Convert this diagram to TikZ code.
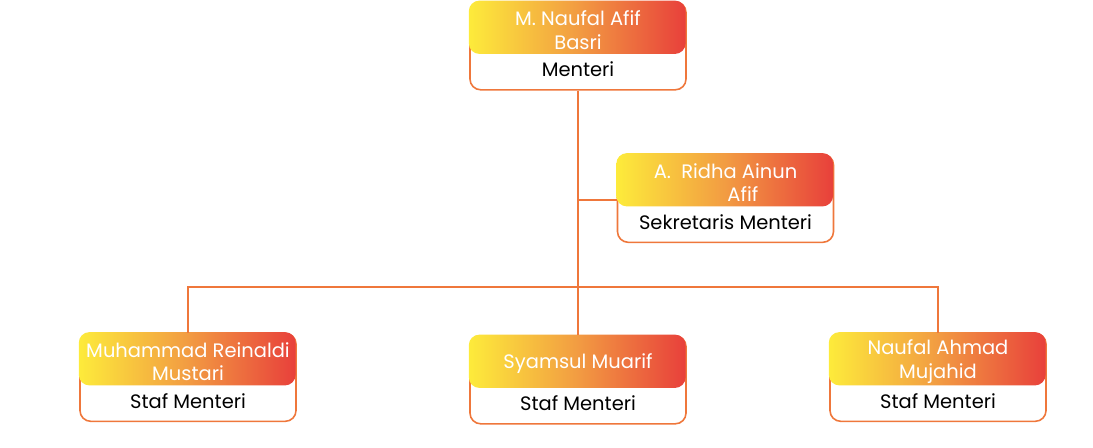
\documentclass[tikz,border=0pt]{standalone}
\usepackage{fontspec}
\setmainfont{Poppins}
\definecolor{gyel}{HTML}{FDEB3B}
\definecolor{gmid}{HTML}{F29C42}
\definecolor{gred}{HTML}{E8403B}
\definecolor{edgeor}{HTML}{EF773B}
\tikzset{
  outerbox/.style={draw=edgeor, line width=1.2pt, rounded corners=8pt, fill=white,
    minimum width=162pt, minimum height=66pt, anchor=north, inner sep=0pt},
  headfill/.style={left color=gyel, right color=gred, middle color=gmid, rounded corners=8pt},
  titletext/.style={text=white, font=\fontsize{14.6}{17.4}\selectfont, align=center, inner sep=0pt},
  roletext/.style={text=black, font=\fontsize{14.6}{17.4}\selectfont, inner sep=0pt},
  link/.style={draw=edgeor, line width=1.2pt},
}
% #1 name, #2 cx, #3 top, #4 title, #5 role
\newcommand\orgbox[5]{%
  \node[outerbox] (#1) at (#2,#3) {};
  \path[headfill] ([xshift=-0.3pt,yshift=0.3pt]#1.north west) rectangle ++(162.6pt,-40pt);
  \node[titletext] (#1-t) at ([yshift=-21.8pt]#1.north) {#4};
  \node[roletext] (#1-r) at ([yshift=16pt]#1.south) {#5};
}
\begin{document}
\begin{tikzpicture}[x=0.75pt,y=-0.75pt]
\useasboundingbox (0,0) rectangle (1093,447);
\coordinate (sek) at (578,200);
\coordinate (lft) at (188,287);
\coordinate (rgt) at (938,287);
\orgbox{men}{578}{1}{M. Naufal Afif\\Basri}{Menteri}
\orgbox{sekr}{725.5}{153.5}{A.~~Ridha Ainun\\\hspace*{26pt}Afif}{Sekretaris Menteri}
\orgbox{st1}{188}{332.5}{Muhammad Reinaldi\\Mustari}{Staf Menteri}
\orgbox{st2}{578}{335}{Syamsul Muarif}{Staf Menteri}
\orgbox{st3}{938}{332.5}{Naufal Ahmad\\Mujahid}{Staf Menteri}
\draw[link] (men.south) -- (st2.north);
\draw[link] (sek) -- (sekr.west |- sek);
\draw[link] (st1.north) -- (lft) -- (rgt) -- (st3.north);
\end{tikzpicture}
\end{document}
